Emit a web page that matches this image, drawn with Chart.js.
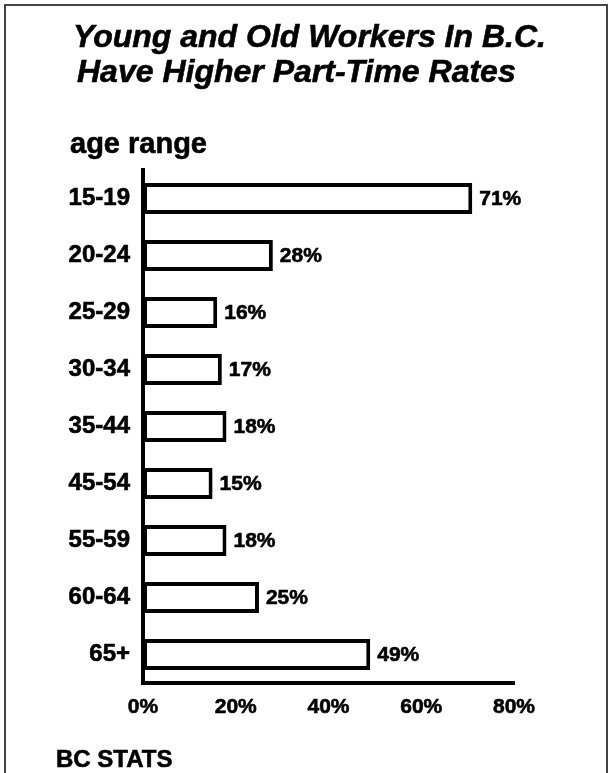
<!DOCTYPE html>
<html>
<head>
<meta charset="utf-8">
<script src="https://cdn.jsdelivr.net/npm/chart.js@4/dist/chart.umd.min.js"></script>
<style>
  html, body { margin: 0; padding: 0; background: #fff; }
  #wrap { width: 609px; height: 773px; }
</style>
</head>
<body>
<div id="wrap"><canvas id="chart" width="609" height="773"></canvas></div>
<script>
var ageRanges = ['15-19', '20-24', '25-29', '30-34', '35-44', '45-54', '55-59', '60-64', '65+'];
var partTimeRates = [71, 28, 16, 17, 18, 15, 18, 25, 49];
var rateTicks = [0, 20, 40, 60, 80];
var titleLines = ['Young and Old Workers In B.C.', 'Have Higher Part-Time Rates'];

var FONT = 'Arial, "Liberation Sans", Helvetica, sans-serif';

function heavyText(c, txt, x, y) {
  c.strokeText(txt, x, y);
  c.fillText(txt, x, y);
}

// frame, title, axis caption and source note
var decorations = {
  id: 'decorations',
  beforeDraw: function (chart) {
    var c = chart.ctx;
    c.save();
    c.fillStyle = '#fff';
    c.fillRect(0, 0, chart.width, chart.height);
    c.strokeStyle = '#444';
    c.lineWidth = 2;
    c.strokeRect(5, 5, 602, 820);

    c.fillStyle = '#000';
    c.strokeStyle = '#000';
    c.lineWidth = 0.6;
    c.textBaseline = 'alphabetic';
    c.textAlign = 'left';
    c.font = 'italic bold 32px ' + FONT;
    heavyText(c, titleLines[0], 73, 47);
    heavyText(c, titleLines[1], 77, 82);

    c.font = 'bold 29px ' + FONT;
    heavyText(c, 'age range', 70, 153);

    c.font = 'bold 24px ' + FONT;
    heavyText(c, 'BC STATS', 56, 767);
    c.restore();
  },
  afterDatasetsDraw: function (chart) {
    var c = chart.ctx;
    var meta = chart.getDatasetMeta(0);
    c.save();
    c.fillStyle = '#000';
    c.strokeStyle = '#000';
    c.lineWidth = 0.6;
    c.font = 'bold 21px ' + FONT;
    c.textAlign = 'left';
    c.textBaseline = 'middle';
    meta.data.forEach(function (bar, i) {
      heavyText(c, partTimeRates[i] + '%', bar.x + 7, bar.y + 1);
    });
    c.restore();
  }
};

var ctx = document.getElementById('chart').getContext('2d');
var myChart = new Chart(ctx, {
  type: 'bar',
  data: {
    labels: ageRanges,
    datasets: [{
      data: partTimeRates,
      backgroundColor: '#fff',
      borderColor: '#000',
      borderWidth: 4,
      borderSkipped: false,
      categoryPercentage: 1,
      barPercentage: 0.54
    }]
  },
  options: {
    indexAxis: 'y',
    responsive: false,
    animation: false,
    layout: { padding: { top: 170, left: 0, right: 95, bottom: 0 } },
    plugins: {
      legend: { display: false },
      title: { display: false },
      tooltip: { enabled: false }
    },
    scales: {
      x: {
        min: rateTicks[0],
        max: rateTicks[rateTicks.length - 1],
        afterBuildTicks: function (axis) {
          axis.ticks = rateTicks.map(function (v) { return { value: v }; });
        },
        afterFit: function (axis) { axis.height = 90; },
        grid: { display: false, drawTicks: false },
        border: { display: true, color: '#000', width: 4 },
        ticks: {
          color: '#000',
          padding: 12,
          textStrokeColor: '#000',
          textStrokeWidth: 0.6,
          font: { family: FONT, size: 21, weight: 'bold' },
          callback: function (v) { return v + '%'; }
        }
      },
      y: {
        afterFit: function (axis) { axis.width = 143; },
        grid: { display: false, drawTicks: false },
        border: { display: true, color: '#000', width: 4 },
        ticks: {
          color: '#000',
          padding: 13,
          textStrokeColor: '#000',
          textStrokeWidth: 0.6,
          font: { family: FONT, size: 24, weight: 'bold' }
        }
      }
    }
  },
  plugins: [decorations]
});
</script>
</body>
</html>
